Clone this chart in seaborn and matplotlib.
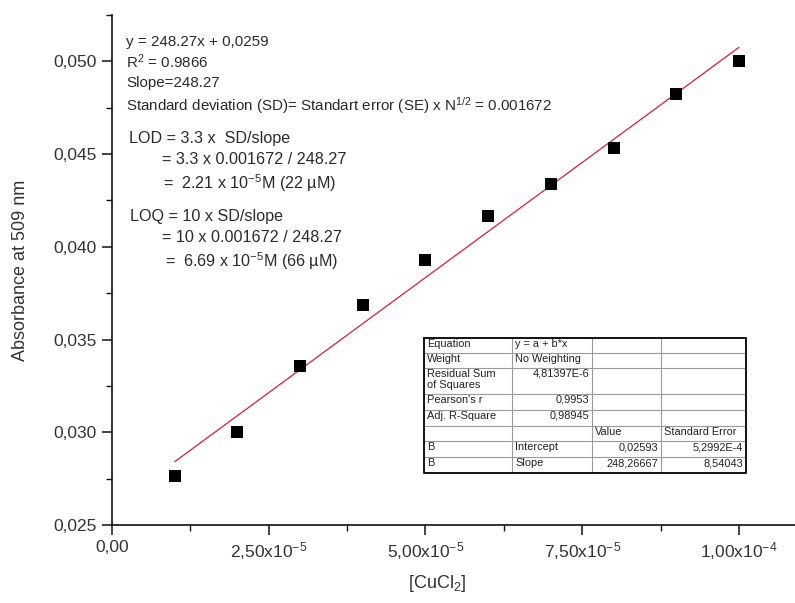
import numpy as np
import pandas as pd
import matplotlib
matplotlib.use("Agg")
import matplotlib.pyplot as plt
import seaborn as sns
from matplotlib.ticker import FixedLocator, FixedFormatter, MultipleLocator

# Calibration data: CuCl2 concentration (M) vs absorbance at 509 nm
conc = [1e-5, 2e-5, 3e-5, 4e-5, 5e-5, 6e-5, 7e-5, 8e-5, 9e-5, 1e-4]
absorbance = [0.02764, 0.03001, 0.03357, 0.03686, 0.03929,
              0.04166, 0.04339, 0.04533, 0.04824, 0.05002]

# Linear fit parameters
fit_intercept = 0.02593
fit_slope = 248.26667

x_ticks = [0.0, 2.5e-5, 5.0e-5, 7.5e-5, 1.0e-4]
x_ticklabels = ["0,00", "2,50x10$^{-5}$", "5,00x10$^{-5}$",
                "7,50x10$^{-5}$", "1,00x10$^{-4}$"]
y_ticks = [0.025, 0.030, 0.035, 0.040, 0.045, 0.050]
y_ticklabels = ["0,025", "0,030", "0,035", "0,040", "0,045", "0,050"]

annotation_lines = [
    "y = 248.27x + 0,0259",
    "R$^{2}$ = 0.9866",
    "Slope=248.27",
    "Standard deviation (SD)= Standart error (SE) x N$^{1/2}$ = 0.001672",
    "LOD = 3.3 x  SD/slope",
    "= 3.3 x 0.001672 / 248.27",
    "=  2.21 x 10$^{-5}$M (22 \u00b5M)",
    "LOQ = 10 x SD/slope",
    "= 10 x 0.001672 / 248.27",
    "=  6.69 x 10$^{-5}$M (66 \u00b5M)",
]

table_cells = [
    ["Equation", "y = a + b*x", "", ""],
    ["Weight", "No Weighting", "", ""],
    ["Residual Sum\nof Squares", "4,81397E-6", "", ""],
    ["Pearson's r", "0,9953", "", ""],
    ["Adj. R-Square", "0,98945", "", ""],
    ["", "", "Value", "Standard Error"],
    ["B", "Intercept", "0,02593", "5,2992E-4"],
    ["B", "Slope", "248,26667", "8,54043"],
]

sns.set_style("ticks")
plt.rcParams["font.family"] = ["Liberation Sans", "DejaVu Sans"]
plt.rcParams["mathtext.fontset"] = "custom"
plt.rcParams["mathtext.rm"] = "Liberation Sans"
plt.rcParams["mathtext.default"] = "regular"

W, H = 795, 603
fig = plt.figure(figsize=(W / 100, H / 100), dpi=100)
ax = fig.add_axes([112 / W, (H - 525) / H, (W - 112) / W, 510 / H])

df = pd.DataFrame({"conc": conc, "abs": absorbance})
fit_x = np.array([conc[0], conc[-1]])
fit_df = pd.DataFrame({"conc": fit_x, "abs": fit_intercept + fit_slope * fit_x})

sns.lineplot(data=fit_df, x="conc", y="abs", ax=ax, color="#d42035",
             linewidth=0.9, zorder=2)
sns.scatterplot(data=df, x="conc", y="abs", ax=ax, marker="s", s=76,
                color="black", edgecolor="black", linewidth=0, zorder=3)

ax.set_xlim(0, (W - 112) / 627.0 * 1e-4)
ax.set_ylim(0.025, 0.0525)
for side in ("top", "right"):
    ax.spines[side].set_visible(False)
for side in ("left", "bottom"):
    ax.spines[side].set_linewidth(1.2)
    ax.spines[side].set_color("#111111")

ax.xaxis.set_major_locator(FixedLocator(x_ticks))
ax.xaxis.set_major_formatter(FixedFormatter(x_ticklabels))
ax.xaxis.set_minor_locator(MultipleLocator(1.25e-5))
ax.yaxis.set_major_locator(FixedLocator(y_ticks))
ax.yaxis.set_major_formatter(FixedFormatter(y_ticklabels))
ax.yaxis.set_minor_locator(MultipleLocator(0.0025))
ax.tick_params(which="major", length=7, width=1.1, color="#111111",
               labelsize=12.5, labelcolor="#333333", pad=4)
ax.tick_params(which="minor", length=4.5, width=1.0, color="#111111")

ax.set_xlabel("[CuCl$_{2}$]", fontsize=13, color="#333333")
ax.set_ylabel("Absorbance at 509 nm", fontsize=13, color="#333333")
ax.xaxis.set_label_coords((437 - 112) / (W - 112), -0.095)
ax.yaxis.set_label_coords(-0.122, 0.5)

# Overlay in pixel coordinates for the annotation text and fit table
ov = fig.add_axes([0, 0, 1, 1])
ov.set_xlim(0, W)
ov.set_ylim(H, 0)
ov.axis("off")
ov.patch.set_visible(False)

text_pos = [(126, 42), (126, 62), (126, 83), (126, 106),
            (129, 138), (162, 159), (163, 183),
            (130, 217), (162, 238), (165, 261)]
text_size = [10.9, 10.9, 10.9, 10.9, 11.6, 11.6, 11.6, 11.6, 11.6, 11.6]
for (px, py), s, fs in zip(text_pos, annotation_lines, text_size):
    ov.text(px, py, s, fontsize=fs, color="#2a2a2a", va="center", ha="left")

# Fit-result table
col_edges = [424, 512, 592, 661, 746]
row_edges = [338, 353, 368, 394, 410, 426, 441, 457, 473]
right_aligned = {(2, 1), (3, 1), (4, 1), (6, 2), (6, 3), (7, 2), (7, 3)}
ov.fill_between([col_edges[0], col_edges[-1]], row_edges[0], row_edges[-1],
                color="white", zorder=4)
for x in col_edges[1:-1]:
    ov.plot([x, x], [row_edges[0], row_edges[-1]], color="#9a9a9a",
            lw=0.8, zorder=5)
for y in row_edges[1:-1]:
    ov.plot([col_edges[0], col_edges[-1]], [y, y], color="#9a9a9a",
            lw=0.8, zorder=5)
ov.plot([col_edges[0], col_edges[-1], col_edges[-1], col_edges[0], col_edges[0]],
        [row_edges[0], row_edges[0], row_edges[-1], row_edges[-1], row_edges[0]],
        color="#111111", lw=1.4, zorder=6)
for r, row in enumerate(table_cells):
    for c, txt in enumerate(row):
        if not txt:
            continue
        top = row_edges[r] + 1.0
        if (r, c) in right_aligned:
            ov.text(col_edges[c + 1] - 3, top, txt, fontsize=7.9, ha="right",
                    va="top", color="#222222", zorder=7, linespacing=1.1)
        else:
            ov.text(col_edges[c] + 3, top, txt, fontsize=7.9, ha="left",
                    va="top", color="#222222", zorder=7, linespacing=1.1)

fig.savefig("out.png", dpi=100, facecolor="white")
